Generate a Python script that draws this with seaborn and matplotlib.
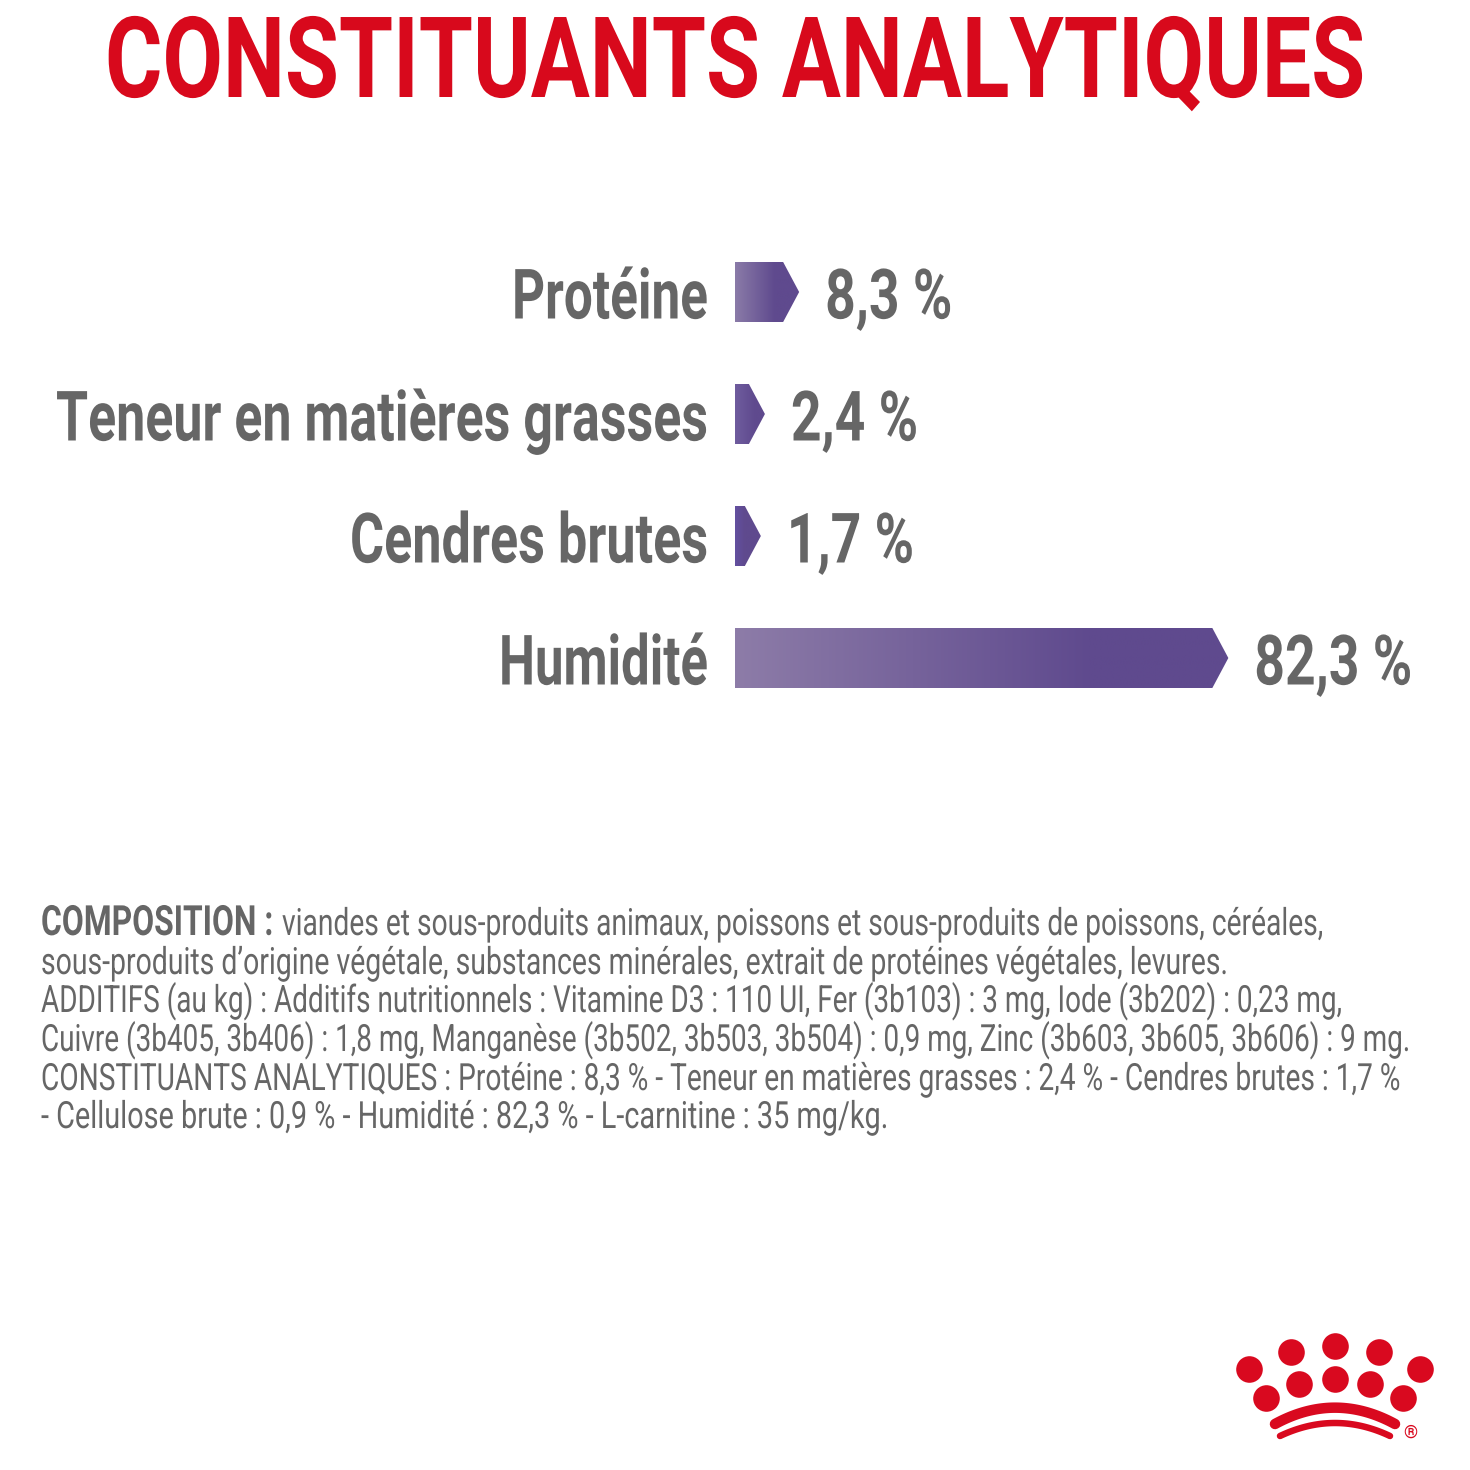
import numpy as np
import matplotlib
matplotlib.use("Agg")
import matplotlib.pyplot as plt
from matplotlib.colors import LinearSegmentedColormap
from matplotlib.patches import Polygon
from matplotlib.patheffects import AbstractPathEffect
from matplotlib.text import Text
from matplotlib.transforms import Affine2D, Bbox
import seaborn as sns

categories = ["Protéine", "Teneur en matières grasses", "Cendres brutes", "Humidité"]
values = [8.3, 2.4, 1.7, 82.3]
value_labels = ["8,3 %", "2,4 %", "1,7 %", "82,3 %"]
title = "CONSTITUANTS ANALYTIQUES"
comp_head = "COMPOSITION :"
comp_lines = [
    "viandes et sous-produits animaux, poissons et sous-produits de poissons, céréales,",
    "sous-produits d’origine végétale, substances minérales, extrait de protéines végétales, levures.",
    "ADDITIFS (au kg) : Additifs nutritionnels : Vitamine D3 : 110 UI, Fer (3b103) : 3 mg, Iode (3b202) : 0,23 mg,",
    "Cuivre (3b405, 3b406) : 1,8 mg, Manganèse (3b502, 3b503, 3b504) : 0,9 mg, Zinc (3b603, 3b605, 3b606) : 9 mg.",
    "CONSTITUANTS ANALYTIQUES : Protéine : 8,3 % - Teneur en matières grasses : 2,4 % - Cendres brutes : 1,7 %",
    "- Cellulose brute : 0,9 % - Humidité : 82,3 % - L-carnitine : 35 mg/kg.",
]

W = 1470
sns.set_theme(style="white")
plt.rcParams["font.family"] = ["Roboto", "DejaVu Sans"]
fig = plt.figure(figsize=(W / 100, W / 100), dpi=100, facecolor="white")
renderer = fig.canvas.get_renderer()


class Squeeze(AbstractPathEffect):
    """Draws a text's glyphs narrower about its anchor (the reference face is condensed)."""
    def __init__(self, owner):
        super().__init__()
        self.owner = owner

    def draw_path(self, renderer, gc, tpath, affine, rgbFace=None):
        x0, sx = self.owner.anchor_x(), self.owner.sx
        renderer.draw_path(gc, tpath, affine + Affine2D().translate(-x0, 0).scale(sx, 1).translate(x0, 0), rgbFace)


class NarrowText(Text):
    def __init__(self, x, y, s, sx=1.0, **kw):
        super().__init__(x, y, s, clip_on=False, **kw)
        self.sx = sx
        self.set_path_effects([Squeeze(self)])

    def anchor_x(self):
        return self.get_transform().transform(self.get_unitless_position())[0]

    def _get_layout(self, renderer):
        # the box is relative to the anchor, so the narrowing is a plain x scale
        bbox, info, descent = super()._get_layout(renderer)
        box = Bbox([[bbox.x0 * self.sx, bbox.y0], [bbox.x1 * self.sx, bbox.y1]])
        return box, info, descent

    def fit_width(self, target):
        self.sx = 1.0
        self.sx = target / self.get_window_extent(renderer).width


def narrow(axes, x, y, s, target=None, **kw):
    t = NarrowText(x, y, s, **kw)
    axes.add_artist(t)
    if target is not None:
        t.fit_width(target)
    return t


# page overlay in pixel coordinates
pg = fig.add_axes([0, 0, 1, 1], zorder=0)
pg.set_xlim(0, W); pg.set_ylim(W, 0); pg.axis("off")

RED = "#d8091c"
GREY = "#666666"
PX = 5.8          # pixels per percentage point
TIP_PX = 16
ROW_PX = 122

narrow(pg, 735, 97, title, target=1260, color=RED, fontsize=81, ha="center", va="baseline", fontweight="bold")

# bars
top, bottom, left = 231, 719, 735
ax = fig.add_axes([left / W, 1 - bottom / W, (W - left) / W, (bottom - top) / W], zorder=2)
ax.patch.set_alpha(0)
sns.barplot(x=values, y=categories, orient="h", color="#5f4b8f", width=60 / ROW_PX,
            saturation=1, ax=ax)
ax.set_xlim(0, (W - left) / PX)
ax.set_ylim(3.5, -0.5)
sns.despine(ax=ax, left=True, bottom=True)
ax.set_xticks([]); ax.set_xlabel(""); ax.set_ylabel("")
ax.set_yticks([])

tip = TIP_PX / PX
spans = [(40 / 65, "#8a7ba8"), (20 / 30, "#6f5c9e"), (10 / 26, "#6350a0"), (0.72, "#8d7ca8")]
cat_widths = [196, 652, 358, 209]
end_col = "#5f4a8e"
base_off = 26.5 / ROW_PX
for patch, cat, lab, cw, (span, start) in zip(ax.patches, categories, value_labels, cat_widths, spans):
    x0, w, y0, h = patch.get_x(), patch.get_width(), patch.get_y(), patch.get_height()
    patch.set_visible(False)
    cmap = LinearSegmentedColormap.from_list("g", [start, end_col])
    outline = Polygon([(x0, y0), (x0 + w, y0), (x0 + w + tip, y0 + h / 2),
                       (x0 + w, y0 + h), (x0, y0 + h)], closed=True,
                      transform=ax.transData, fc="none", ec="none")
    ax.add_patch(outline)
    g = np.clip(np.linspace(0, 1, 256) / span, 0, 1)[None, :]
    im = ax.imshow(g, cmap=cmap, vmin=0, vmax=1, aspect="auto", interpolation="bilinear",
                   extent=(x0, x0 + w + tip, y0 + h, y0), zorder=2)
    im.set_clip_path(outline)
    yb = y0 + h / 2 + base_off
    narrow(ax, x0 + w + tip + 26 / PX, yb, lab, sx=0.77, color=GREY, fontsize=50,
           fontweight="bold", ha="left", va="baseline")
    narrow(ax, -27 / PX, yb, cat, target=cw, color=GREY, fontsize=50,
           fontweight="bold", ha="right", va="baseline")
ax.set_xlim(0, (W - left) / PX)
ax.set_ylim(3.5, -0.5)

# composition text
base = [935, 974, 1012, 1051, 1090, 1128]
ends = [1323, 1228, 1342, 1411, 1400, 888]
body = 27
narrow(pg, 41, base[0], comp_head, target=232, color=GREY, fontsize=30, fontweight="bold", va="baseline")
narrow(pg, 282, base[0], comp_lines[0], target=ends[0] - 282, color=GREY, fontsize=body, va="baseline")
for y, e, line in zip(base[1:], ends[1:], comp_lines[1:]):
    narrow(pg, 41, y, line, target=e - 41, color=GREY, fontsize=body, va="baseline")

# logo
logo_x = [88, 212, 345, 477, 600, 139, 238, 345, 451, 550]
logo_y = [148, 96, 78, 96, 148, 234, 192, 178, 192, 234]
lx = 1220 + np.array(logo_x) / 3
ly = 1320 + np.array(logo_y) / 3
pg.scatter(lx, ly, s=(2 * 13.3 * 0.72) ** 2, color="#d9091f", linewidths=0)


def arc(xs, xe, yend, ypeak, lw):
    t = np.linspace(-1, 1, 60)
    xx = (xs + xe) / 2 + t * (xe - xs) / 2
    yy = ypeak + (yend - ypeak) * np.abs(t) ** 2
    pg.plot(1220 + xx / 3, 1320 + yy / 3, color="#d9091f", lw=lw, solid_capstyle="round")


arc(165, 525, 312, 263, 10.5 * 0.72)
arc(180, 510, 348, 309, 6.5 * 0.72)
pg.text(1220 + 570 / 3, 1320 + 339 / 3, "®", color="#d9091f", fontsize=13, ha="center", va="center")

fig.savefig("out.png", dpi=100, facecolor="white")
